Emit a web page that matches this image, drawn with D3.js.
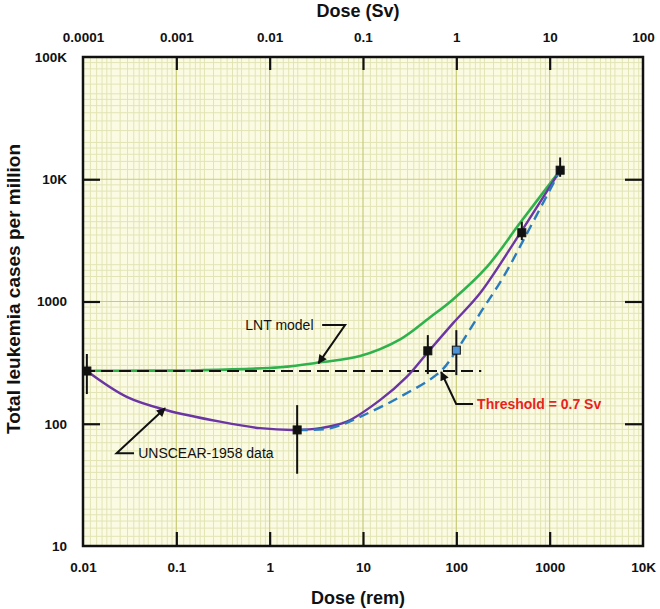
<!DOCTYPE html>
<html>
<head>
<meta charset="utf-8">
<script src="https://cdn.jsdelivr.net/npm/d3@7"></script>
<style>
  html, body { margin: 0; padding: 0; background: #ffffff; }
  svg { display: block; }
  text { font-family: "Liberation Sans", Arial, sans-serif; }
</style>
</head>
<body>
<svg id="chart" width="660" height="609"></svg>
<script>
// ---------------- DATA ----------------
const remTicks = [0.01, 0.1, 1, 10, 100, 1000, 10000];
const remTickLabels = ["0.01", "0.1", "1", "10", "100", "1000", "10K"];
const svTicks = [0.0001, 0.001, 0.01, 0.1, 1, 10, 100];
const svTickLabels = ["0.0001", "0.001", "0.01", "0.1", "1", "10", "100"];
const caseTicks = [10, 100, 1000, 10000, 100000];
const caseTickLabels = ["10", "100", "1000", "10K", "100K"];

// LNT model curve (green)
const lntDose  = [0.011, 0.05, 0.18, 1.3, 3.5, 9.3, 25, 52, 92, 214, 483, 1300];
const lntCases = [271, 272, 274, 290, 318, 358, 490, 740, 1040, 1930, 4400, 11900];

// UNSCEAR fit (purple)
const fitDose  = [0.011, 0.0294, 0.079, 0.294, 0.79, 1.9, 3.47, 6.7, 15.2, 29.4, 48.3, 92.4, 180, 483, 1300];
const fitCases = [270, 166, 129, 104, 92, 89, 92, 104, 156, 242, 376, 665, 1172, 3630, 11900];

// Threshold model (blue dashed)
const thrDose  = [2, 4.43, 9.3, 25, 67, 101, 180, 320, 523, 1300];
const thrCases = [89, 91.6, 114, 166, 266, 401, 803, 1592, 3175, 11900];

// UNSCEAR-1958 data points with error bars
const ptDose  = [0.011, 1.97, 49.5, 503, 1295];
const ptCases = [270, 89, 395, 3650, 11860];
const ptLow   = [175, 39, 255, 3180, 10470];
const ptHigh  = [372, 142, 531, 4490, 15070];

// Threshold point (blue)
const thrPtDose = [100];
const thrPtCases = [400];
const thrPtLow = [250];
const thrPtHigh = [583];

// Background level (black dashed)
const bgDose = [0.01, 185];
const bgCases = [270, 270];

// ---------------- CHART ----------------
const svg = d3.select("#chart");
const L = 83, R = 643, T = 57, B = 546;
const x = d3.scaleLog().domain([0.01, 10000]).range([L, R]);
const xSv = d3.scaleLog().domain([0.0001, 100]).range([L, R]);
const y = d3.scaleLog().domain([10, 100000]).range([B, T]);

// background
svg.append("rect").attr("x", L).attr("y", T).attr("width", R - L).attr("height", B - T)
  .attr("fill", "#fbfbe4");

// grid
const mult = [1.2, 1.4, 1.6, 1.8, 2, 2.5, 3, 3.5, 4, 4.5, 5, 6, 7, 8, 9];
const gx = [], gy = [];
for (let e = -2; e < 4; e++) mult.forEach(m => gx.push(m * Math.pow(10, e)));
for (let e = 1; e < 5; e++) mult.forEach(m => gy.push(m * Math.pow(10, e)));
const grid = svg.append("g");
grid.selectAll(".gx").data(gx).join("line")
  .attr("x1", d => x(d)).attr("x2", d => x(d)).attr("y1", T).attr("y2", B)
  .attr("stroke", "#e2e4b4").attr("stroke-width", 1);
grid.selectAll(".gy").data(gy).join("line")
  .attr("y1", d => y(d)).attr("y2", d => y(d)).attr("x1", L).attr("x2", R)
  .attr("stroke", "#e2e4b4").attr("stroke-width", 1);
grid.selectAll(".mx").data(remTicks).join("line")
  .attr("x1", d => x(d)).attr("x2", d => x(d)).attr("y1", T).attr("y2", B)
  .attr("stroke", "#c9cc78").attr("stroke-width", 1.2);
grid.selectAll(".my").data(caseTicks).join("line")
  .attr("y1", d => y(d)).attr("y2", d => y(d)).attr("x1", L).attr("x2", R)
  .attr("stroke", "#c9cc78").attr("stroke-width", 1.2);

// curves
const line = d3.line().x(d => x(d[0])).y(d => y(d[1])).curve(d3.curveCatmullRom.alpha(0.5));
const zip = (a, b) => a.map((v, i) => [v, b[i]]);

svg.append("path").attr("d", line(zip(lntDose, lntCases)))
  .attr("fill", "none").attr("stroke", "#2fb24c").attr("stroke-width", 2.6);
svg.append("path").attr("d", line(zip(bgDose, bgCases)))
  .attr("fill", "none").attr("stroke", "#111").attr("stroke-width", 2.2)
  .attr("stroke-dasharray", "12,6");
svg.append("path").attr("d", line(zip(fitDose, fitCases)))
  .attr("fill", "none").attr("stroke", "#6b35a3").attr("stroke-width", 2.4);
svg.append("path").attr("d", line(zip(thrDose, thrCases)))
  .attr("fill", "none").attr("stroke", "#2a7bbd").attr("stroke-width", 2.4)
  .attr("stroke-dasharray", "10,6");

// error bars and points
function drawPoints(dose, cases, lo, hi, fill) {
  const g = svg.append("g");
  const data = dose.map((d, i) => ({ d, c: cases[i], lo: lo[i], hi: hi[i] }));
  g.selectAll("line").data(data).join("line")
    .attr("x1", p => x(p.d)).attr("x2", p => x(p.d))
    .attr("y1", p => y(p.lo)).attr("y2", p => y(p.hi))
    .attr("stroke", "#111").attr("stroke-width", 2);
  g.selectAll("rect").data(data).join("rect")
    .attr("x", p => x(p.d) - 4).attr("y", p => y(p.c) - 4)
    .attr("width", 8).attr("height", 8)
    .attr("fill", fill).attr("stroke", "#111").attr("stroke-width", 1);
}
drawPoints(ptDose, ptCases, ptLow, ptHigh, "#111");
drawPoints(thrPtDose, thrPtCases, thrPtLow, thrPtHigh, "#4b93d4");

// axes
const fmt = (vals, labels) => v => labels[vals.findIndex(t => Math.abs(t - v) / t < 1e-6)];
const axB = svg.append("g").attr("transform", `translate(0,${B})`)
  .call(d3.axisBottom(x).tickValues(remTicks).tickFormat(fmt(remTicks, remTickLabels))
    .tickSizeInner(-14).tickSizeOuter(0).tickPadding(16));
const axT = svg.append("g").attr("transform", `translate(0,${T})`)
  .call(d3.axisTop(xSv).tickValues(svTicks).tickFormat(fmt(svTicks, svTickLabels))
    .tickSizeInner(-13).tickSizeOuter(0).tickPadding(15));
const axL = svg.append("g").attr("transform", `translate(${L},0)`)
  .call(d3.axisLeft(y).tickValues(caseTicks).tickFormat(fmt(caseTicks, caseTickLabels))
    .tickSizeInner(-17).tickSizeOuter(0).tickPadding(16));
const axR = svg.append("g").attr("transform", `translate(${R},0)`)
  .call(d3.axisRight(y).tickValues([100, 1000, 10000]).tickFormat("")
    .tickSizeInner(-18).tickSizeOuter(0));
[axB, axT, axL, axR].forEach(a => {
  a.select(".domain").remove();
  a.selectAll(".tick line").attr("stroke", "#111").attr("stroke-width", 2.2);
  a.selectAll(".tick text").attr("fill", "#111").style("font-size", "13.5px")
    .style("font-weight", "bold").style("font-family", "'Liberation Sans', Arial, sans-serif");
});
axB.selectAll(".tick line").filter(d => d === 0.01 || d === 10000).remove();
axT.selectAll(".tick line").filter(d => d === 0.0001 || d === 100).remove();
axL.selectAll(".tick line").filter(d => d === 10 || d === 100000).remove();

// frame
svg.append("rect").attr("x", L).attr("y", T).attr("width", R - L).attr("height", B - T)
  .attr("fill", "none").attr("stroke", "#111").attr("stroke-width", 2.5);

// axis titles
svg.append("text").attr("x", (L + R) / 2 - 5).attr("y", 17).attr("text-anchor", "middle")
  .style("font-size", "18px").style("font-weight", "bold").attr("fill", "#111").text("Dose (Sv)");
svg.append("text").attr("x", (L + R) / 2 - 5).attr("y", 604).attr("text-anchor", "middle")
  .style("font-size", "18px").style("font-weight", "bold").attr("fill", "#111").text("Dose (rem)");
svg.append("text").attr("transform", `translate(20,${289}) rotate(-90)`).attr("text-anchor", "middle")
  .style("font-size", "19px").style("font-weight", "bold").attr("fill", "#111")
  .text("Total leukemia cases per million");

// annotations (positions in data coordinates)
const defs = svg.append("defs");
defs.append("marker").attr("id", "arr").attr("viewBox", "0 0 10 10")
  .attr("refX", 9).attr("refY", 5).attr("markerWidth", 5).attr("markerHeight", 4.5)
  .attr("orient", "auto").attr("markerUnits", "strokeWidth")
  .append("path").attr("d", "M0,0 L10,5 L0,10 z").attr("fill", "#111");

const annotations = [
  { text: "LNT model", anchor: "end", tx: 2.95, ty: 641, color: "#111", bold: false,
    path: [[3.65, 641], [6.43, 641], [3.33, 312]] },
  { text: "UNSCEAR-1958 data", anchor: "start", tx: 0.039, ty: 57.3, color: "#111", bold: false,
    path: [[0.0352, 57.3], [0.0229, 57.3], [0.0757, 134]] },
  { text: "Threshold = 0.7 Sv", anchor: "start", tx: 167, ty: 145, color: "#e8231c", bold: true,
    path: [[151, 145], [99.6, 145], [68.7, 265]] }
];
const aline = d3.line().x(d => x(d[0])).y(d => y(d[1]));
annotations.forEach(a => {
  svg.append("path").attr("d", aline(a.path)).attr("fill", "none")
    .attr("stroke", "#111").attr("stroke-width", 2).attr("marker-end", "url(#arr)");
  svg.append("text").attr("x", x(a.tx)).attr("y", y(a.ty)).attr("dy", "0.35em")
    .attr("text-anchor", a.anchor).attr("fill", a.color)
    .style("font-size", "14px").style("font-weight", a.bold ? "bold" : "normal")
    .text(a.text);
});
</script>
</body>
</html>
